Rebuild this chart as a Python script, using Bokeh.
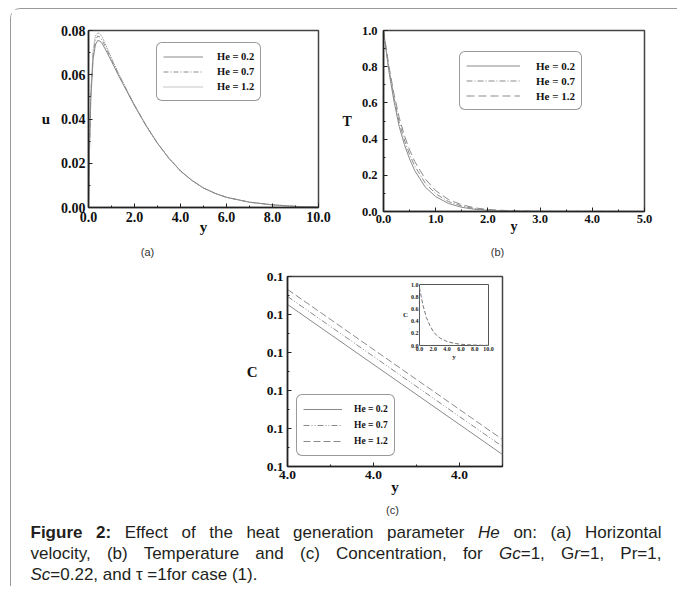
from bokeh.plotting import figure
from bokeh.models import (Range1d, FixedTicker, NumeralTickFormatter, Legend, LegendItem,
                          Div, Spacer, Row, Column)
from bokeh.core.properties import value
from bokeh.embed import file_html
from bokeh.resources import INLINE

# ---------------- data ----------------
HE_LABELS = ["He = 0.2", "He = 0.7", "He = 1.2"]

# (a) horizontal velocity u vs y
a_y = [0, 0.05, 0.1, 0.2, 0.3, 0.4, 0.5, 0.6, 0.8, 1.0, 1.25, 1.5, 2.0, 2.5, 3.0, 3.5,
       4.0, 4.5, 5.0, 5.5, 6.0, 7.0, 8.0, 9.0, 10.0]
u_02 = [0, 0.029, 0.049, 0.067, 0.0735, 0.0755, 0.0752, 0.0740, 0.0702, 0.0660, 0.0608,
        0.0558, 0.0460, 0.0370, 0.0290, 0.0222, 0.0165, 0.0122, 0.0088, 0.0064, 0.0046,
        0.0024, 0.0012, 0.0005, 0.0002]
u_07 = [0, 0.030, 0.051, 0.069, 0.0755, 0.0775, 0.0770, 0.0755, 0.0713, 0.0668, 0.0614,
        0.0562, 0.0462, 0.0371, 0.0290, 0.0222, 0.0165, 0.0122, 0.0088, 0.0064, 0.0046,
        0.0024, 0.0012, 0.0005, 0.0002]
u_12 = [0, 0.031, 0.052, 0.071, 0.0775, 0.0790, 0.0785, 0.0770, 0.0724, 0.0676, 0.0620,
        0.0566, 0.0464, 0.0372, 0.0291, 0.0223, 0.0166, 0.0122, 0.0088, 0.0064, 0.0046,
        0.0024, 0.0012, 0.0005, 0.0002]
a_xticks = [0, 2, 4, 6, 8, 10]
a_xminor = [1, 3, 5, 7, 9]
a_yticks = [0, 0.02, 0.04, 0.06, 0.08]
a_yminor = [0.01, 0.03, 0.05, 0.07]

# (b) temperature T vs y
b_y = [0, 0.1, 0.2, 0.3, 0.4, 0.5, 0.6, 0.8, 1.0, 1.25, 1.5, 1.75, 2.0, 2.5, 3.0, 5.0]
T_02 = [1.0, 0.78, 0.61, 0.47, 0.37, 0.29, 0.225, 0.135, 0.082, 0.044, 0.023, 0.012,
        0.006, 0.002, 0.0005, 0.0]
T_07 = [1.0, 0.795, 0.63, 0.495, 0.395, 0.315, 0.25, 0.157, 0.098, 0.054, 0.030, 0.016,
        0.008, 0.0025, 0.0007, 0.0]
T_12 = [1.0, 0.81, 0.65, 0.52, 0.42, 0.34, 0.275, 0.18, 0.115, 0.065, 0.037, 0.020,
        0.011, 0.003, 0.001, 0.0]
b_xticks = [0, 1, 2, 3, 4, 5]
b_xminor = [0.5, 1.5, 2.5, 3.5, 4.5]
b_yticks = [0, 0.2, 0.4, 0.6, 0.8, 1.0]
b_yminor = [0.1, 0.3, 0.5, 0.7, 0.9]

# (c) concentration C vs y (zoomed window)
c_y = [3.98, 4.03]
C_02 = [0.10853, 0.10063]
C_07 = [0.10895, 0.10105]
C_12 = [0.10932, 0.10142]
c_xticks = [3.98, 4.00, 4.02]
c_xminor = [3.99, 4.01, 4.03]
c_yticks = [0.100, 0.102, 0.104, 0.106, 0.108, 0.110]
c_yminor = [0.101, 0.103, 0.105, 0.107, 0.109]

# inset of (c): full C profile
inset_y = [0, 0.25, 0.5, 1, 1.5, 2, 2.5, 3, 4, 5, 6, 7, 8, 9, 10]
inset_c = [0.95, 0.80, 0.66, 0.46, 0.33, 0.23, 0.165, 0.12, 0.065, 0.036, 0.020, 0.012,
           0.007, 0.004, 0.003]
inset_xticks = [0, 2, 4, 6, 8, 10]
inset_yticks = [0, 0.2, 0.4, 0.6, 0.8, 1.0]

# ---------------- styling ----------------
SERIF = "Liberation Serif"
LINE_COL = "#8a8a8a"


def make_fig(fw, fh, left, right, top, bottom, xr, yr):
    p = figure(frame_width=fw, frame_height=fh, x_range=Range1d(*xr), y_range=Range1d(*yr),
               output_backend="svg", toolbar_location=None, margin=0)
    p.min_border_left = left
    p.min_border_right = right
    p.min_border_top = top
    p.min_border_bottom = bottom
    p.grid.visible = False
    p.background_fill_color = "white"
    p.border_fill_color = "white"
    p.outline_line_color = "#444444"
    p.outline_line_width = 1.5
    return p


def style_axes(p, xt, xm, yt, ym, xfmt, yfmt, tsize, lsize, xlabel, ylabel,
               x_mls, y_mls, x_als, y_als):
    p.xaxis.ticker = FixedTicker(ticks=xt, minor_ticks=xm)
    p.yaxis.ticker = FixedTicker(ticks=yt, minor_ticks=ym)
    p.xaxis.formatter = NumeralTickFormatter(format=xfmt)
    p.yaxis.formatter = NumeralTickFormatter(format=yfmt)
    for ax in p.axis:
        ax.axis_line_width = 1.5
        ax.axis_line_color = "#222222"
        ax.major_tick_in = 4
        ax.major_tick_out = 0
        ax.minor_tick_in = 2
        ax.minor_tick_out = 0
        ax.major_tick_line_color = "#222222"
        ax.minor_tick_line_color = "#222222"
        ax.major_label_text_font = SERIF
        ax.major_label_text_font_style = "bold"
        ax.major_label_text_font_size = tsize
        ax.major_label_text_color = "#111111"
        ax.axis_label_text_font = SERIF
        ax.axis_label_text_font_style = "bold"
        ax.axis_label_text_font_size = lsize
        ax.axis_label_text_color = "#111111"
    p.xaxis.axis_label = xlabel
    p.yaxis.axis_label = ylabel
    p.xaxis.major_label_standoff = x_mls
    p.yaxis.major_label_standoff = y_mls
    p.xaxis.axis_label_standoff = x_als
    p.yaxis.axis_label_standoff = y_als
    try:
        p.yaxis.axis_label_orientation = "horizontal"
    except Exception:
        pass


def add_legend(p, renderers, loc, fsize, gw, standoff, gh):
    leg = Legend(items=[LegendItem(label=l, renderers=[r]) for l, r in zip(HE_LABELS, renderers)],
                 location=loc, margin=0, padding=6, spacing=0,
                 glyph_width=gw, glyph_height=gh, label_height=gh, label_standoff=standoff,
                 label_text_font=SERIF, label_text_font_style="bold",
                 label_text_font_size=fsize, label_text_color="#111111",
                 border_line_color="#333333", border_line_width=1.2,
                 background_fill_color="white", background_fill_alpha=1.0)
    try:
        leg.border_radius = 6
    except Exception:
        pass
    p.add_layout(leg)


# ---------------- panel (a) ----------------
pa = make_fig(230, 177, 77, 21, 20, 42, (0, 10), (0, 0.08))
ra1 = pa.line(a_y, u_02, line_color=LINE_COL, line_width=1)
ra2 = pa.line(a_y, u_07, line_color=LINE_COL, line_width=1, line_dash="5 2 1 2")
ra3 = pa.line(a_y, u_12, line_color=LINE_COL, line_width=1, line_dash="1 1")
style_axes(pa, a_xticks, a_xminor, a_yticks, a_yminor, "0.0", "0.00", "14px", "15px",
           "y", "u", 4, 3, -6, 8)
add_legend(pa, [ra1, ra2, ra3], (68, 106), "10.5px", 40, 14, 15)

# ---------------- panel (b) ----------------
pb = make_fig(261, 181, 42, 33, 21, 42, (0, 5), (0, 1.0))
rb1 = pb.line(b_y, T_02, line_color=LINE_COL, line_width=1)
rb2 = pb.line(b_y, T_07, line_color=LINE_COL, line_width=1, line_dash="6 2 1 2")
rb3 = pb.line(b_y, T_12, line_color=LINE_COL, line_width=1, line_dash="8 4")
style_axes(pb, b_xticks, b_xminor, b_yticks, b_yminor, "0.0", "0.0", "12.5px", "14px",
           "y", "T", 3, 6, -7, 7)
add_legend(pb, [rb1, rb2, rb3], (76, 101), "11px", 54, 16, 15)

# ---------------- panel (c) ----------------
pc = make_fig(215, 190, 79, 20, 19, 36, (3.98, 4.03), (0.100, 0.110))
rc1 = pc.line(c_y, C_02, line_color=LINE_COL, line_width=1)
rc2 = pc.line(c_y, C_07, line_color=LINE_COL, line_width=1, line_dash="6 2 1 2 1 2")
rc3 = pc.line(c_y, C_12, line_color=LINE_COL, line_width=1, line_dash="7 3")
style_axes(pc, c_xticks, c_xminor, c_yticks, c_yminor, "0.0", "0.0", "13.5px", "15px",
           "y", "C", 4, 4, -3, 6)
add_legend(pc, [rc1, rc2, rc3], (9, 10), "9.5px", 39, 12, 16)

# inset drawn on its own ranges inside panel (c)'s frame
FRAME_W, FRAME_H = 215, 190
IN_L, IN_R, IN_T, IN_B = 132, 201, 8, 69   # inset box in frame pixels
sx = (IN_R - IN_L) / (inset_xticks[-1] - inset_xticks[0])
sy = (IN_B - IN_T) / (inset_yticks[-1] - inset_yticks[0])
pc.extra_x_ranges = {"ix": Range1d(inset_xticks[0] - IN_L / sx,
                                   inset_xticks[-1] + (FRAME_W - IN_R) / sx)}
pc.extra_y_ranges = {"iy": Range1d(inset_yticks[0] - (FRAME_H - IN_B) / sy,
                                   inset_yticks[-1] + IN_T / sy)}
pc.quad(left=[inset_xticks[0]], right=[inset_xticks[-1]], bottom=[inset_yticks[0]],
        top=[inset_yticks[-1]], x_range_name="ix", y_range_name="iy",
        fill_color="white", line_color="#555555", line_width=1)
pc.line(inset_y, inset_c, x_range_name="ix", y_range_name="iy",
        line_color="#777777", line_width=1, line_dash="4 2")
tick_font = dict(text_font=value(SERIF), text_font_style="bold", text_font_size="6px",
                 text_color="#222222")
pc.text(x=inset_xticks, y=[inset_yticks[0]] * len(inset_xticks),
        text=["%.1f" % v for v in inset_xticks], x_range_name="ix", y_range_name="iy",
        text_align="center", text_baseline="top", y_offset=1, **tick_font)
pc.text(x=[inset_xticks[0]] * len(inset_yticks), y=inset_yticks,
        text=["%.1f" % v for v in inset_yticks], x_range_name="ix", y_range_name="iy",
        text_align="right", text_baseline="middle", x_offset=-1, **tick_font)
pc.text(x=[inset_xticks[0]], y=[0.5], text=["C"], x_range_name="ix", y_range_name="iy",
        text_align="center", text_baseline="middle", x_offset=-14,
        text_font=value(SERIF), text_font_style="bold", text_font_size="7px",
        text_color="#222222")
pc.text(x=[5], y=[inset_yticks[0]], text=["y"], x_range_name="ix", y_range_name="iy",
        text_align="center", text_baseline="top", y_offset=7,
        text_font=value(SERIF), text_font_style="bold", text_font_size="7px",
        text_color="#222222")

# ---------------- layout ----------------
LBL = "font-family:'Liberation Sans',Arial,sans-serif;font-size:11px;color:#333;"
ab_div = Div(text=('<div style="position:relative;top:-9px;white-space:nowrap;%sline-height:14px">'
                   '<span style="display:inline-block;width:273px;text-align:center">(a)</span>'
                   '<span style="display:inline-block;width:427px;text-align:center">(b)</span>'
                   '</div>') % LBL, width=664, height=4, margin=0)
c_div = Div(text=('<div style="white-space:nowrap;%sline-height:16px">'
                  '<span style="display:inline-block;width:375px"></span>(c)</div>') % LBL,
            width=664, height=16, margin=0)
CAP = ("margin-left:19.5px;width:631px;font-family:'Liberation Sans',Arial,sans-serif;"
       "font-size:17px;line-height:21px;color:#231f20;padding-top:4px;")
JUST = "text-align:justify;text-align-last:justify;"
caption = Div(text=(
    '<div style="%s">'
    '<div style="%s"><b>Figure 2:</b> Effect of the heat generation parameter <i>He</i> on: (a) Horizontal</div>'
    '<div style="%s">velocity, (b) Temperature and (c) Concentration, for <i>Gc</i>=1, G<i>r</i>=1, Pr=1,</div>'
    '<div><i>Sc</i>=0.22, and &tau; =1for case (1).</div>'
    '</div>') % (CAP, JUST, JUST), width=664, height=68, margin=0)

row1 = Row(children=[pa, pb], spacing=0, margin=0)
row2 = Row(children=[Spacer(width=197, height=245, margin=0), pc], spacing=0, margin=0)
layout = Column(children=[row1, ab_div, row2, c_div, caption], spacing=0, margin=(8, 0, 0, 10),
                styles={"border-top": "1.5px solid #9a9a9a", "border-left": "1.5px solid #9a9a9a",
                        "border-top-left-radius": "10px"})

open("out.html", "w").write(file_html(layout, INLINE))
